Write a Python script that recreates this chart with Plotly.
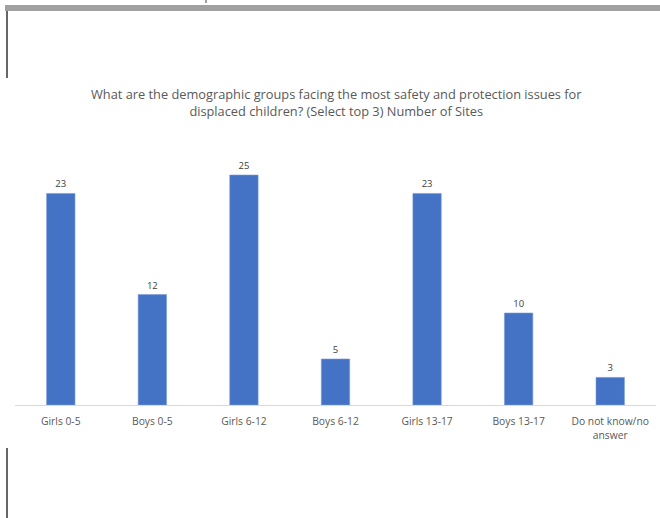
import plotly.graph_objects as go

categories = ["Girls 0-5", "Boys 0-5", "Girls 6-12", "Boys 6-12", "Girls 13-17", "Boys 13-17", "Do not know/no<br>answer"]
values = [23, 12, 25, 5, 23, 10, 3]
title_text = "What are the demographic groups facing the most safety and protection issues for<br>displaced children? (Select top 3) Number of Sites"

W, H = 660, 518
L, R, T, B = 15, 4, 150, 113
pw, ph = W - L - R, H - T - B

def px(x):
    return (x - L) / pw

def py(y):
    return (H - B - y) / ph

font_family = "Open Sans, Liberation Sans, sans-serif"

fig = go.Figure(go.Bar(
    x=categories, y=values,
    marker=dict(color="#4472c4", line=dict(color="#7a9bd8", width=0.6)),
    text=[str(v) for v in values], textposition="outside",
    textfont=dict(size=9.5, color="#404040", family=font_family),
    cliponaxis=False,
))

fig.update_layout(
    width=W, height=H,
    margin=dict(l=L, r=R, t=T, b=B),
    paper_bgcolor="white", plot_bgcolor="white",
    bargap=0.69, showlegend=False,
    font=dict(family=font_family, color="#595959"),
    xaxis=dict(showline=True, linecolor="#d9d9d9", linewidth=1, showgrid=False,
               tickfont=dict(size=10.3, color="#595959"), ticks="", ticklabelstandoff=7,
               fixedrange=True),
    yaxis=dict(range=[0, 27.72], visible=False, showgrid=False, fixedrange=True),
    shapes=[
        dict(type="rect", xref="paper", yref="paper", x0=px(5), x1=px(661), y0=py(11), y1=py(5),
             fillcolor="#a0a0a0", line=dict(width=0)),
        dict(type="rect", xref="paper", yref="paper", x0=px(205), x1=px(207), y0=py(3), y1=py(0),
             fillcolor="#a0a0a0", line=dict(width=0)),
        dict(type="line", xref="paper", yref="paper", x0=px(7), x1=px(7), y0=py(11), y1=py(78),
             line=dict(color="black", width=1.2)),
        dict(type="line", xref="paper", yref="paper", x0=px(7), x1=px(7), y0=py(448), y1=py(518),
             line=dict(color="black", width=1.2)),
    ],
    annotations=[
        dict(text=title_text, xref="paper", yref="paper", x=px(336), y=py(102),
             xanchor="center", yanchor="middle", showarrow=False,
             font=dict(size=12.8, color="#595959", family=font_family)),
    ],
)

fig.write_html("out.html", config={"displayModeBar": False},
               post_script="document.body.style.margin='0';document.body.style.overflow='hidden';")
